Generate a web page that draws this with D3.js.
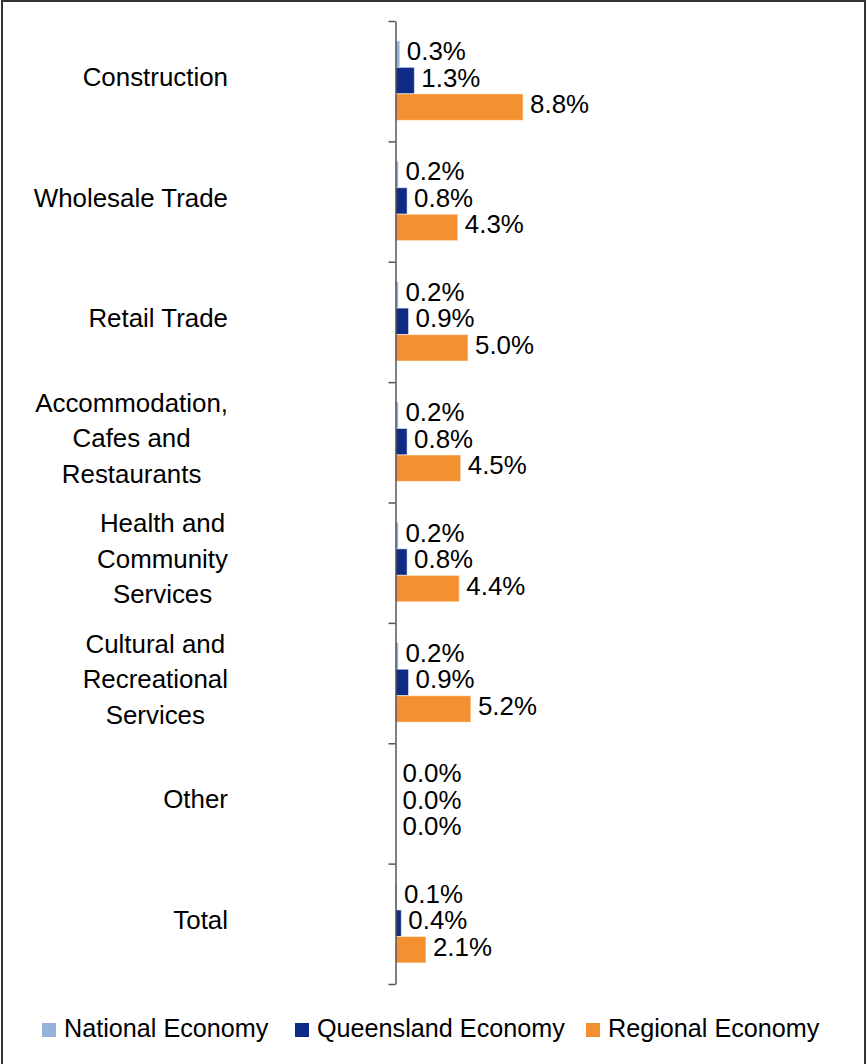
<!DOCTYPE html>
<html>
<head>
<meta charset="utf-8">
<script src="https://cdn.jsdelivr.net/npm/d3@7"></script>
<style>
  html, body { margin: 0; padding: 0; background: #fff; }
  svg { display: block; }
  text { font-family: "Liberation Sans", Arial, sans-serif; fill: #000; }
</style>
</head>
<body>
<svg id="chart" width="868" height="1064"></svg>
<script>
// ---- data ----
const categories = [
  "Construction",
  "Wholesale Trade",
  "Retail Trade",
  "Accommodation,\nCafes and\nRestaurants",
  "Health and\nCommunity\nServices",
  "Cultural and\nRecreational\nServices",
  "Other",
  "Total"
];
const seriesNames = ["National Economy", "Queensland Economy", "Regional Economy"];
const nationalValues   = [0.3, 0.2, 0.2, 0.2, 0.2, 0.2, 0.0, 0.1];
const queenslandValues = [1.3, 0.8, 0.9, 0.8, 0.8, 0.9, 0.0, 0.4];
const regionalValues   = [8.8, 4.3, 5.0, 4.5, 4.4, 5.2, 0.0, 2.1];
const seriesColors = ["#95B3DA", "#0E2C87", "#F39130"];

const seriesValues = [nationalValues, queenslandValues, regionalValues];

// ---- layout ----
const svg = d3.select("#chart");
const fontSize = 25.9;
const legendFontSize = 25.2;
const axisX = 395.5;
const plotTop = 21, plotBottom = 984;

// border
svg.append("rect")
  .attr("x", 2).attr("y", 1)
  .attr("width", 863).attr("height", 1080)
  .attr("fill", "none").attr("stroke", "#333").attr("stroke-width", 2);

const y0 = d3.scaleBand().domain(categories).range([plotTop, plotBottom]).paddingInner(0).paddingOuter(0);
const y1 = d3.scaleBand().domain(seriesNames)
  .range([y0.bandwidth() * 0.165, y0.bandwidth() * 0.825]).padding(0);
const x = d3.scaleLinear().domain([0, 10]).range([axisX, axisX + 145]);

const fmt = v => d3.format(".1f")(v) + "%";

// bars
const groups = svg.append("g").selectAll("g")
  .data(categories)
  .join("g")
  .attr("transform", d => `translate(0,${y0(d)})`);

groups.each(function(cat, ci) {
  const g = d3.select(this);
  const rows = seriesNames.map((s, si) => ({ s, si, v: seriesValues[si][ci] }));
  g.selectAll("rect")
    .data(rows)
    .join("rect")
    .attr("x", x(0))
    .attr("y", d => y1(d.s))
    .attr("width", d => x(d.v) - x(0))
    .attr("height", y1.bandwidth())
    .attr("fill", d => seriesColors[d.si])
    .attr("stroke", "rgba(255,255,255,0.55)")
    .attr("stroke-width", 1);
  g.selectAll("text.val")
    .data(rows)
    .join("text")
    .attr("class", "val")
    .attr("x", d => x(d.v) + 7)
    .attr("y", d => y1(d.s) + y1.bandwidth() / 2 + 6)
    .attr("font-size", fontSize)
    .text(d => fmt(d.v));
});

// axis
const boundaryScale = d3.scaleLinear().domain([0, categories.length]).range([plotTop, plotBottom]);
const axisG = svg.append("g")
  .attr("transform", `translate(${axisX},0)`)
  .call(d3.axisLeft(boundaryScale).ticks(categories.length).tickFormat("").tickSizeInner(7).tickSizeOuter(0));
axisG.select(".domain").attr("stroke", "#555").attr("stroke-width", 1.5);
axisG.selectAll(".tick line").attr("stroke", "#555").attr("stroke-width", 1.5);

// category labels
const labelRight = 228;
const lineH = 35.5;
categories.forEach(cat => {
  const lines = cat.split("\n");
  const cy = y0(cat) + y0.bandwidth() / 2;
  const t = svg.append("text").attr("font-size", fontSize).attr("text-anchor", "middle");
  lines.forEach((ln, i) => {
    t.append("tspan").attr("y", cy + 5 + (i - (lines.length - 1) / 2) * lineH).text(ln);
  });
  let maxW = 0;
  t.selectAll("tspan").each(function() { maxW = Math.max(maxW, this.getComputedTextLength()); });
  t.selectAll("tspan").attr("x", labelRight - maxW / 2);
});

// legend
const legendX = [42, 295, 586];
const legend = svg.append("g");
seriesNames.forEach((s, i) => {
  legend.append("rect").attr("x", legendX[i]).attr("y", 1023).attr("width", 14).attr("height", 14)
    .attr("fill", seriesColors[i]);
  legend.append("text").attr("x", legendX[i] + 22).attr("y", 1037)
    .attr("font-size", legendFontSize).text(s);
});
</script>
</body>
</html>
